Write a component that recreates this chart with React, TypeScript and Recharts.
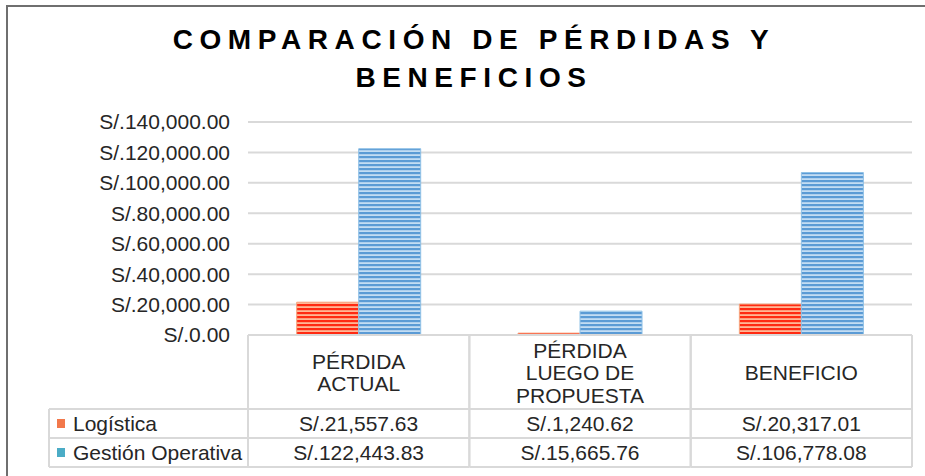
import React from 'react';
import { BarChart, Bar, XAxis, YAxis, CartesianGrid } from 'recharts';

const categories = ['PÉRDIDA ACTUAL', 'PÉRDIDA LUEGO DE PROPUESTA', 'BENEFICIO'];
const categoryLines = [['PÉRDIDA', 'ACTUAL'], ['PÉRDIDA', 'LUEGO DE', 'PROPUESTA'], ['BENEFICIO']];
const logistica = [21557.63, 1240.62, 20317.01];
const gestion = [122443.83, 15665.76, 106778.08];
const seriesNames = ['Logística', 'Gestión Operativa'];
const yTicks = [0, 20000, 40000, 60000, 80000, 100000, 120000, 140000];
const titleLines = ['COMPARACIÓN DE PÉRDIDAS Y', 'BENEFICIOS'];

const data = categories.map((c, i) => ({ name: c, logistica: logistica[i], gestion: gestion[i] }));

const W = 925;
const H = 476;
const XAXIS_H = 141;
const MARGIN = { top: 122, right: 13, bottom: 0, left: 0 };
const YAXIS_W = 248;
const BAND = (W - MARGIN.left - MARGIN.right - YAXIS_W) / categories.length;
const FONT = '"Liberation Sans", Arial, sans-serif';
const GRID = '#d9d9d9';
const TXT = '#262626';
const SWATCH = ['#f2784b', '#4bacc6'];
const FS = 21;

const fmt = (v: number) =>
  'S/.' + v.toLocaleString('en-US', { minimumFractionDigits: 2, maximumFractionDigits: 2 });

const HEADER_H = 74;
const ROW_H = 29;
const LEG_W = 199;

function TableTick(props: any) {
  const { x, y, payload } = props;
  const i = payload.index;
  const left = x - BAND / 2;
  const right = x + BAND / 2;
  const lines = categoryLines[i];
  const hc = y + 45;
  const els: any[] = [];
  const ln = (k: string, x1: number, y1: number, x2: number, y2: number) => (
    <line key={k} x1={x1} y1={y1} x2={x2} y2={y2} stroke={GRID} strokeWidth={2} />
  );
  els.push(ln('v1', left, y, left, y + HEADER_H + 2 * ROW_H));
  els.push(ln('v2', right, y, right, y + HEADER_H + 2 * ROW_H));
  els.push(ln('h1', left, y + HEADER_H, right, y + HEADER_H));
  els.push(ln('h2', left, y + HEADER_H + ROW_H, right, y + HEADER_H + ROW_H));
  els.push(ln('h3', left, y + HEADER_H + 2 * ROW_H, right, y + HEADER_H + 2 * ROW_H));
  lines.forEach((t, k) => {
    els.push(
      <text key={'hd' + k} x={x} y={hc + (k - (lines.length - 1) / 2) * 22.5} textAnchor="middle" fontSize={FS} fill={TXT} fontFamily={FONT}>
        {t}
      </text>
    );
  });
  [logistica, gestion].forEach((arr, r) => {
    els.push(
      <text key={'v' + r} x={x} y={y + HEADER_H + r * ROW_H + 22} textAnchor="middle" fontSize={FS} fill={TXT} fontFamily={FONT}>
        {fmt(arr[i])}
      </text>
    );
  });
  if (i === 0) {
    const l0 = left - LEG_W;
    els.push(ln('lv', l0, y + HEADER_H, l0, y + HEADER_H + 2 * ROW_H));
    els.push(ln('lh1', l0, y + HEADER_H, left, y + HEADER_H));
    els.push(ln('lh2', l0, y + HEADER_H + ROW_H, left, y + HEADER_H + ROW_H));
    els.push(ln('lh3', l0, y + HEADER_H + 2 * ROW_H, left, y + HEADER_H + 2 * ROW_H));
    seriesNames.forEach((n, r) => {
      const cy = y + HEADER_H + r * ROW_H;
      els.push(<rect key={'sw' + r} x={l0 + 8} y={cy + 10} width={8} height={9} fill={SWATCH[r]} />);
      els.push(
        <text key={'ln' + r} x={l0 + 24} y={cy + 22} fontSize={FS} fill={TXT} fontFamily={FONT}>
          {n}
        </text>
      );
    });
  }
  return <g>{els}</g>;
}

export default function App() {
  return (
    <div style={{ position: 'absolute', left: 0, top: 0, width: W, height: H, background: '#fff', overflow: 'hidden' }}>
      <div
        style={{
          position: 'absolute',
          left: 0,
          top: 0,
          width: W,
          height: H,
          borderTop: '2px solid #6f6f6f',
          borderLeft: '2px solid #6f6f6f',
          marginLeft: 6,
          marginTop: 5,
          boxSizing: 'border-box',
        }}
      />
      <div
        style={{
          position: 'absolute',
          left: 0,
          top: 21,
          width: 948,
          textAlign: 'center',
          fontFamily: FONT,
          fontWeight: 'bold',
          fontSize: 28,
          lineHeight: '38px',
          letterSpacing: 6.6,
          color: '#000',
        }}
      >
        {titleLines.map((t) => (
          <div key={t}>{t}</div>
        ))}
      </div>
      <div style={{ position: 'absolute', left: 0, top: 0 }}>
        <BarChart width={W} height={H} data={data} margin={MARGIN} barCategoryGap="22%" barGap={0}>
          <defs>
            <pattern id="pOrange" patternUnits="userSpaceOnUse" width="10" height="4">
              <rect x="0" y="0" width="10" height="4" fill="#ffb796" />
              <rect x="0" y="0" width="10" height="2.2" fill="#ff2a12" />
            </pattern>
            <pattern id="pBlue" patternUnits="userSpaceOnUse" width="10" height="4">
              <rect x="0" y="0" width="10" height="4" fill="#c3ddf3" />
              <rect x="0" y="0" width="10" height="2.2" fill="#5b9bd5" />
            </pattern>
          </defs>
          <CartesianGrid vertical={false} stroke={GRID} strokeWidth={2} />
          <YAxis
            width={YAXIS_W}
            domain={[0, 140000]}
            ticks={yTicks}
            interval={0}
            tickFormatter={fmt}
            axisLine={false}
            tickLine={false}
            tickMargin={12}
            tick={{ fontSize: FS, fill: TXT, fontFamily: FONT }}
          />
          <XAxis
            dataKey="name"
            height={XAXIS_H}
            axisLine={{ stroke: GRID, strokeWidth: 2 }}
            tickLine={false}
            tickSize={0}
            tickMargin={0}
            interval={0}
            tick={<TableTick />}
          />
          <Bar dataKey="logistica" fill="url(#pOrange)" stroke="#f6a47e" strokeWidth={1} isAnimationActive={false} />
          <Bar dataKey="gestion" fill="url(#pBlue)" stroke="#8ec0e6" strokeWidth={1} isAnimationActive={false} />
        </BarChart>
      </div>
    </div>
  );
}
